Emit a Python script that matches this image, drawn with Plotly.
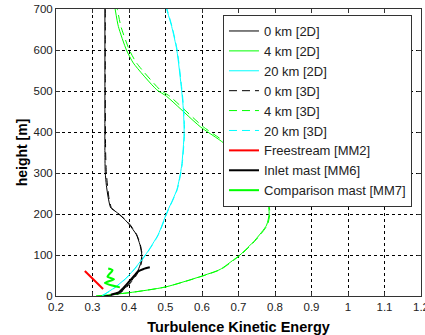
import plotly.graph_objects as go

# 0 km [2D]
km0_2d_x = [0.33, 0.35, 0.372, 0.39, 0.405, 0.418, 0.425, 0.432, 0.435, 0.43, 0.42, 0.40, 0.39, 0.378, 0.365, 0.35, 0.343, 0.338, 0.335, 0.334, 0.334, 0.334]
km0_2d_y = [0, 2, 6, 20, 35, 50, 63, 80, 100, 125, 150, 175, 185, 195, 205, 215, 240, 270, 300, 350, 500, 700]
# 0 km [3D]
km0_3d_x = [0.33, 0.352, 0.374, 0.392, 0.407, 0.42, 0.427, 0.434, 0.436, 0.431, 0.421, 0.402, 0.391, 0.379, 0.366, 0.352, 0.345, 0.341, 0.338, 0.336, 0.335, 0.335]
km0_3d_y = [0, 2, 6, 20, 35, 50, 63, 80, 100, 125, 150, 175, 185, 195, 205, 215, 240, 270, 300, 350, 500, 700]
# 4 km [2D]
km4_2d_x = [0.31, 0.40, 0.50, 0.594, 0.65, 0.686, 0.704, 0.745, 0.777, 0.784, 0.777, 0.754, 0.745, 0.70, 0.649, 0.595, 0.503, 0.476, 0.412, 0.393, 0.371, 0.362]
km4_2d_y = [0, 8, 22, 47, 65, 88, 100, 136, 173, 202, 242, 287, 300, 345, 380, 413, 487, 503, 568, 600, 657, 700]
# 4 km [3D]
km4_3d_x = [0.31, 0.40, 0.50, 0.596, 0.652, 0.688, 0.706, 0.747, 0.779, 0.786, 0.779, 0.757, 0.749, 0.706, 0.656, 0.603, 0.512, 0.485, 0.421, 0.401, 0.378, 0.368]
km4_3d_y = [0, 8, 22, 47, 65, 88, 100, 136, 173, 202, 242, 287, 300, 345, 380, 413, 487, 503, 568, 600, 657, 700]
# 20 km [2D]
km20_2d_x = [0.325, 0.36, 0.39, 0.412, 0.448, 0.48, 0.503, 0.531, 0.544, 0.551, 0.549, 0.544, 0.531, 0.517, 0.503]
km20_2d_y = [0, 20, 42, 63, 104, 150, 202, 259, 316, 397, 454, 503, 600, 657, 700]
# 20 km [3D]
km20_3d_x = [0.326, 0.361, 0.391, 0.413, 0.449, 0.481, 0.504, 0.532, 0.545, 0.552, 0.55, 0.545, 0.532, 0.518, 0.504]
km20_3d_y = [0, 20, 42, 63, 104, 150, 202, 259, 316, 397, 454, 503, 600, 657, 700]
# Freestream [MM2]
mm2_x = [0.279, 0.329]
mm2_y = [61, 17]
# Inlet mast [MM6]
mm6_x = [0.35, 0.37, 0.385, 0.40, 0.415, 0.425, 0.44, 0.457]
mm6_y = [3, 8, 20, 35, 50, 60, 66, 70]
# Comparison mast [MM7]
mm7_x = [0.343, 0.355, 0.341, 0.359, 0.334, 0.375]
mm7_y = [67, 63, 47, 41, 32, 21]

x_ticks = [0.2, 0.3, 0.4, 0.5, 0.6, 0.7, 0.8, 0.9, 1, 1.1, 1.2]
x_tick_labels = ["0.2", "0.3", "0.4", "0.5", "0.6", "0.7", "0.8", "0.9", "1", "1.1", "1.2"]
y_ticks = [0, 100, 200, 300, 400, 500, 600, 700]

fig = go.Figure()
series = [
    ("0 km [2D]", km0_2d_x, km0_2d_y, "black", "solid", 1),
    ("4 km [2D]", km4_2d_x, km4_2d_y, "#00ff00", "solid", 1),
    ("20 km [2D]", km20_2d_x, km20_2d_y, "#00ffff", "solid", 1),
    ("0 km [3D]", km0_3d_x, km0_3d_y, "black", "8px,5px", 1),
    ("4 km [3D]", km4_3d_x, km4_3d_y, "#00ff00", "8px,5px", 1),
    ("20 km [3D]", km20_3d_x, km20_3d_y, "#00ffff", "8px,5px", 1),
    ("Freestream [MM2]", mm2_x, mm2_y, "red", "solid", 2),
    ("Inlet mast [MM6]", mm6_x, mm6_y, "black", "solid", 2),
    ("Comparison mast [MM7]", mm7_x, mm7_y, "#00ff00", "solid", 2),
]
for name, xs, ys, c, d, w in series:
    fig.add_trace(go.Scatter(x=xs, y=ys, name=name, mode="lines",
                             line=dict(color=c, dash=d, width=w, shape="spline", smoothing=0.6)))

axis_common = dict(showline=True, linecolor="#333333", linewidth=1, mirror="allticks",
                   ticks="inside", ticklen=4, tickcolor="#333333",
                   showgrid=True, gridcolor="black", gridwidth=1, griddash="dot",
                   zeroline=False, automargin=False, ticklabeloverflow="allow",
                   tickfont=dict(size=11.5, color="#222222"))

fig.update_layout(
    width=425, height=335,
    margin=dict(l=56, r=4, t=9, b=39),
    plot_bgcolor="white", paper_bgcolor="white",
    font=dict(family="Liberation Sans, Arial, sans-serif", size=12, color="black"),
    xaxis=dict(range=[0.2, 1.2], tickvals=x_ticks, ticktext=x_tick_labels,
               title=dict(text="<b>Turbulence Kinetic Energy</b>", font=dict(size=14.5)),
               **axis_common),
    yaxis=dict(range=[0, 700], tickvals=y_ticks, **axis_common),
    legend=dict(x=0.4575, y=0.979, xanchor="left", yanchor="top",
                bgcolor="white", bordercolor="#333333", borderwidth=1,
                font=dict(size=13, color="#222222"), itemwidth=30, tracegroupgap=0,
                traceorder="normal"),
    showlegend=True,
)
fig.add_annotation(text="<b>height [m]</b>", xref="paper", yref="paper",
                   x=-0.092, y=0.502, xanchor="center", yanchor="middle",
                   textangle=-90, showarrow=False, font=dict(size=14, color="black"))

fig.write_html("out.html", config={"displayModeBar": False},
               post_script="document.body.style.margin='0';")
